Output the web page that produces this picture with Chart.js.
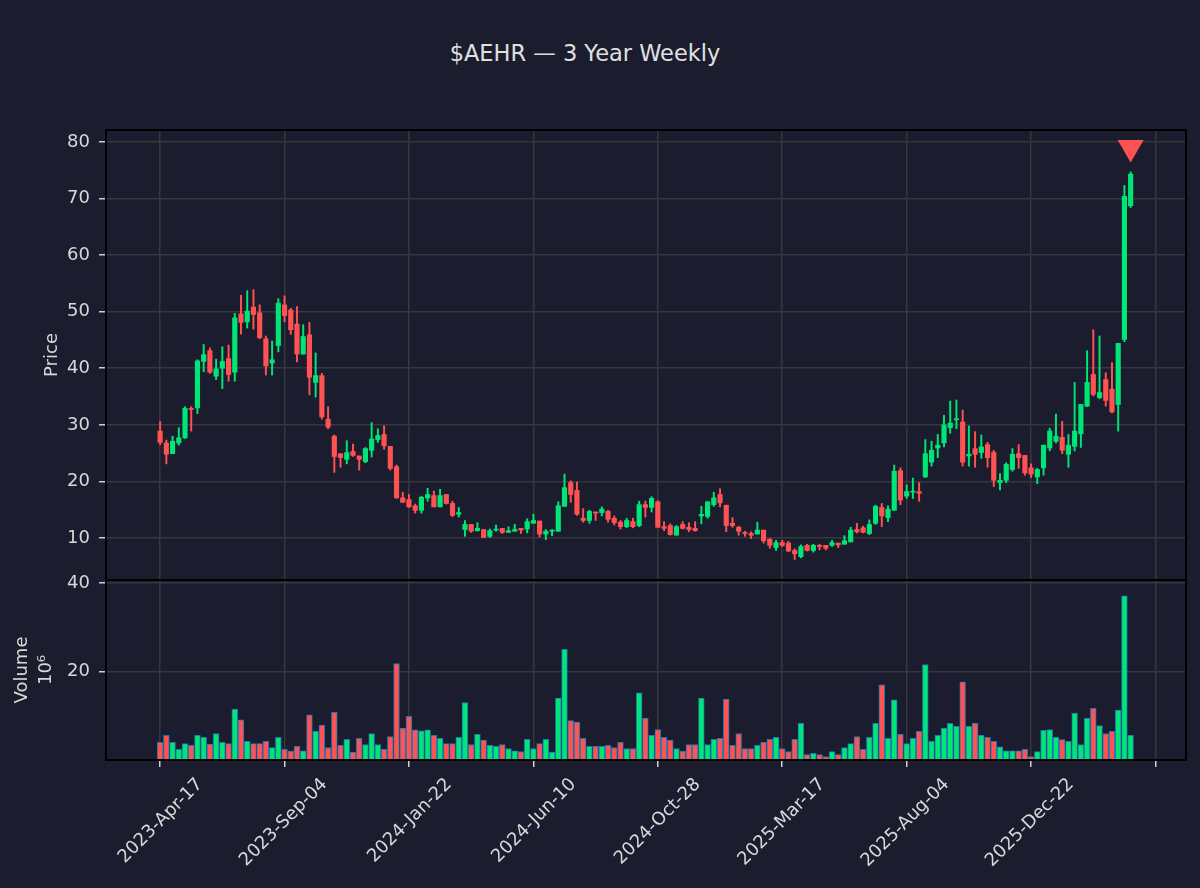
<!DOCTYPE html>
<html><head><meta charset="utf-8">
<script src="https://cdn.jsdelivr.net/npm/chart.js@4.4.1/dist/chart.umd.min.js"></script>
<style>
html,body{margin:0;padding:0;background:#1b1c2e;width:1200px;height:888px;overflow:hidden}
#title{position:absolute;left:0;width:1170px;top:40px;text-align:center;color:#e0e0e0;font:22.5px "DejaVu Sans",sans-serif;line-height:26px}
canvas{position:absolute;left:0}
#pc{top:0}
#vc{top:560px}
</style></head>
<body>
<div id="title">$AEHR — 3 Year Weekly</div>
<canvas id="pc" width="1200" height="580"></canvas>
<canvas id="vc" width="1200" height="328"></canvas>
<script>
// Weekly candles, week 0 = 2023-Apr-17
const opens = [28.9,26.8,24.9,26.8,27.7,32.9,33.0,41.2,43.1,38.6,
40.0,41.7,39.3,49.6,48.2,50.8,49.8,45.2,40.9,44.0,
51.2,50.3,47.8,42.5,45.9,37.5,38.7,31.0,28.0,24.9,
23.9,25.3,24.5,23.5,25.5,27.4,28.3,26.2,22.6,17.1,
16.8,15.7,14.9,17.1,17.5,15.5,17.7,16.1,14.2,11.5,
12.4,11.3,11.5,10.3,11.4,11.7,11.0,11.2,11.7,11.6,
12.6,13.0,10.7,11.2,11.2,15.6,19.8,18.4,13.5,13.1,
14.6,14.5,14.7,13.5,12.8,12.0,12.9,12.2,15.9,15.4,
16.4,12.0,12.2,10.5,12.4,11.9,11.7,13.9,13.8,15.9,
17.7,15.8,12.6,11.9,10.9,10.8,10.7,11.4,9.8,8.3,
9.2,9.1,7.8,6.7,8.7,7.8,8.7,8.7,8.7,9.1,
8.9,9.3,11.5,11.8,10.8,12.6,15.4,13.6,14.9,21.9,
17.4,18.1,18.2,20.8,23.4,25.9,26.8,29.5,30.9,30.5,
24.5,25.8,25.1,26.5,25.1,19.8,20.2,22.1,24.9,24.6,
22.4,20.8,22.4,25.9,27.1,27.8,24.8,26.2,28.4,33.3,
38.9,34.8,38.0,36.3,33.6,45.1,68.7];
const highs = [30.6,27.3,28.0,29.5,33.2,33.2,41.5,44.2,43.6,41.6,
43.8,44.1,49.7,52.9,53.7,53.9,51.2,45.7,44.8,52.3,
52.8,50.6,50.9,47.7,48.1,42.7,39.1,33.2,28.2,24.9,
27.2,26.6,24.5,26.0,30.4,29.3,29.8,26.2,22.9,18.1,
17.7,16.0,17.4,18.8,18.3,18.6,17.7,16.5,15.4,13.1,
12.4,12.7,11.5,11.6,12.3,11.7,12.0,12.4,11.7,13.4,
14.2,13.0,11.5,11.5,16.4,21.3,20.1,19.9,15.2,14.9,
14.6,15.5,14.9,13.9,13.1,13.5,13.5,16.5,16.5,17.3,
16.6,12.9,12.5,12.2,12.9,12.7,12.9,15.6,16.4,18.1,
18.7,15.8,13.6,12.1,11.2,11.1,12.8,11.4,9.9,9.6,
9.6,9.4,8.1,8.8,8.9,8.9,8.9,8.7,9.6,9.1,
10.4,11.9,12.6,12.1,13.2,15.8,16.1,15.7,22.9,22.4,
19.4,20.6,19.8,27.4,27.1,28.3,31.7,34.2,34.4,32.6,
29.8,28.8,28.2,26.9,25.5,21.4,23.3,25.8,26.5,24.6,
23.1,22.3,26.4,29.4,31.9,30.6,28.3,37.5,33.6,43.1,
46.8,45.7,39.2,41.0,44.4,72.3,74.7];
const lows = [26.5,23.1,24.9,26.4,27.6,28.9,32.0,39.4,39.1,38.0,
36.4,37.7,37.7,46.0,47.1,46.9,45.2,38.8,38.8,42.9,
48.2,46.0,41.1,42.5,35.3,34.9,31.0,29.3,21.6,22.5,
23.1,24.4,22.0,23.3,24.3,26.9,25.7,22.0,17.0,16.3,
15.4,14.4,14.4,16.5,15.5,15.5,16.0,13.8,13.7,10.3,
11.0,11.2,10.1,10.1,11.2,10.8,11.0,11.2,10.8,10.9,
12.6,10.2,9.7,10.4,11.2,15.6,16.3,14.0,12.8,12.6,
13.1,13.9,12.8,12.3,11.6,11.8,11.8,12.0,13.7,14.6,
11.9,11.3,10.5,10.5,11.6,11.1,11.2,12.5,13.5,15.6,
15.5,11.1,11.9,10.5,10.3,9.9,10.7,9.1,8.2,7.8,
8.5,7.6,6.2,6.5,7.7,7.5,7.9,7.9,8.5,8.3,
8.9,9.3,10.9,10.9,10.6,12.4,12.0,12.9,14.9,15.9,
17.0,17.0,16.5,20.7,22.7,24.2,26.1,28.5,29.3,22.7,
22.7,22.5,24.1,22.5,19.1,18.5,19.8,21.8,22.3,21.1,
20.7,19.6,21.1,25.4,26.8,24.9,22.5,25.4,26.0,33.2,
35.1,34.6,33.3,32.1,28.9,44.7,68.4];
const closes = [26.9,24.8,27.1,27.7,32.9,32.7,41.3,42.4,39.3,39.9,
41.2,38.9,48.9,48.1,50.1,49.5,45.4,40.4,41.5,51.5,
49.3,46.8,42.5,45.6,38.4,38.7,31.4,29.6,24.4,24.2,
25.1,24.6,23.9,25.8,27.5,28.1,26.3,22.3,17.1,16.3,
15.5,14.9,17.2,17.7,15.5,17.5,16.1,14.0,14.5,12.4,
11.2,11.7,10.1,11.3,11.5,11.0,11.3,11.5,11.4,12.9,
13.1,10.7,11.2,11.3,15.7,18.9,17.7,14.2,13.1,14.7,
14.4,15.1,13.3,12.7,12.0,13.1,12.0,15.9,15.4,17.0,
11.9,11.7,10.6,12.0,11.7,11.5,11.3,14.2,16.4,17.1,
16.2,12.2,12.2,11.2,10.8,10.5,11.4,9.5,8.7,9.2,
8.7,7.7,7.2,8.5,7.8,8.7,8.5,8.2,9.2,8.8,
9.5,11.4,11.1,11.0,12.4,15.6,13.9,15.1,21.8,16.7,
18.2,18.2,17.9,24.9,25.5,26.4,30.0,30.3,31.0,23.4,
24.8,24.8,26.1,24.2,20.2,20.2,23.0,24.8,24.2,21.5,
21.3,22.1,26.4,28.9,28.0,25.5,26.4,28.9,33.6,37.5,
35.4,35.7,34.3,32.3,44.4,70.4,74.3];
// Volume in millions
const volumes = [4.0,5.6,4.0,2.4,3.7,3.3,5.6,5.1,3.6,6.0,
4.0,3.7,11.5,9.1,4.2,3.7,3.7,4.2,2.8,5.1,
2.4,2.0,3.1,2.1,10.2,6.5,7.9,2.8,10.8,3.3,
4.7,1.8,4.9,3.5,6.0,3.5,2.4,5.3,21.8,7.2,
9.9,6.8,6.6,6.8,5.6,4.9,3.7,3.7,5.1,13.0,
3.5,5.8,4.5,3.3,3.1,3.5,2.6,2.1,1.9,4.7,
2.6,3.7,4.7,1.8,14.0,25.0,8.9,8.6,4.9,3.1,
3.1,3.1,3.3,2.8,4.0,2.6,2.6,15.2,9.5,5.6,
6.9,5.1,4.5,2.6,2.0,3.5,3.5,14.0,3.5,4.7,
4.9,13.8,3.3,6.0,2.6,2.6,3.3,4.0,4.7,5.1,
2.6,1.9,4.7,8.3,1.2,1.5,1.2,0.8,1.9,1.2,
2.8,3.7,5.3,2.4,5.1,8.3,17.0,4.9,13.6,5.8,
3.7,4.9,6.5,21.6,4.2,5.6,7.2,8.3,7.6,17.7,
7.6,8.3,5.6,5.1,4.2,3.0,2.1,2.1,2.1,2.4,
0.8,1.9,6.7,6.9,5.1,4.6,4.2,10.6,3.5,9.4,
11.7,7.8,6.0,6.5,11.3,37.1,5.6];
const tickWeeks = [0,20,40,60,80,100,120,140,160];
const tickLabels = ['2023-Apr-17','2023-Sep-04','2024-Jan-22','2024-Jun-10','2024-Oct-28','2025-Mar-17','2025-Aug-04','2025-Dec-22',''];
const priceTicks = [10,20,30,40,50,60,70,80];
const volumeTicks = [20,40];
const signalMarker = [{x:156, y:79}];

const UP = '#00e676', DOWN = '#ff5252';
const GRID = '#37373c', TXT = '#d8d8d8', TICKC = '#cfcfcf';
const FONT = {family:'"DejaVu Sans"', size:18};
const weeks = opens.map((_, i) => i);
const colorOf = i => closes[i] >= opens[i] ? UP : DOWN;

const frame = {id:'frame', afterDraw(c){
  const {ctx, chartArea:a} = c;
  ctx.save(); ctx.strokeStyle = '#000'; ctx.lineWidth = 2;
  ctx.strokeRect(a.left, a.top, a.right - a.left, a.bottom - a.top);
  ctx.restore();
}};

const xBase = (showLabels, h) => ({
  type:'linear', min:-8.7, max:164.9, offset:false,
  afterBuildTicks: s => { s.ticks = tickWeeks.map(v => ({value:v})); },
  afterFit: s => { s.height = h; s.paddingLeft = 0; s.paddingRight = 0; s.paddingTop = 0; s.paddingBottom = 0; },
  grid:{color:GRID, offset:false, lineWidth:1.5, drawTicks:showLabels, tickLength:7, tickColor:TICKC},
  border:{display:false},
  ticks: showLabels ? {
    display:true, autoSkip:false, minRotation:45, maxRotation:45, color:TXT, font:FONT,
    padding:7, labelOffset:40,
    callback: (v) => { const k = tickWeeks.indexOf(v); return k >= 0 ? tickLabels[k] : ''; }
  } : {display:false}
});

const yFit = s => { s.width = 106; s.paddingTop = 0; s.paddingBottom = 0; s.paddingLeft = 0; s.paddingRight = 0; };

new Chart(document.getElementById('pc'), {
  type:'bar',
  data:{datasets:[
    {type:'scatter', data:signalMarker, pointStyle:'triangle', rotation:180, pointRadius:15,
     backgroundColor:DOWN, borderColor:DOWN, borderWidth:0, order:1},
    {label:'body', data:weeks.map(i => ({x:i, y:[opens[i], closes[i]]})),
     backgroundColor:weeks.map(colorOf), barThickness:4.5, grouped:false, minBarLength:1, order:2},
    {label:'wick', data:weeks.map(i => ({x:i, y:[lows[i], highs[i]]})),
     backgroundColor:weeks.map(colorOf), barThickness:1.3, grouped:false, order:3}
  ]},
  options:{
    responsive:false, animation:false, devicePixelRatio:1,
    layout:{autoPadding:false, padding:{left:0, right:14, top:130, bottom:0}},
    plugins:{legend:{display:false}, tooltip:{enabled:false}, title:{display:false}},
    scales:{
      x: xBase(false, 0),
      y: {type:'linear', position:'left', min:2.58, max:82.1,
        afterBuildTicks: s => { s.ticks = priceTicks.map(v => ({value:v})); },
        afterFit: yFit,
        ticks:{color:TXT, font:FONT, padding:9},
        grid:{color:GRID, lineWidth:1.5, tickLength:7, tickColor:TICKC},
        border:{display:false},
        title:{display:true, text:'Price', color:TXT, font:FONT, padding:{top:42, bottom:0}}}
    }
  },
  plugins:[frame]
});

new Chart(document.getElementById('vc'), {
  type:'bar',
  data:{datasets:[
    {label:'volume', data:weeks.map(i => ({x:i, y:volumes[i]})),
     backgroundColor:weeks.map(colorOf), borderColor:'#1f77b4', borderWidth:1,
     barThickness:5.8, grouped:false}
  ]},
  options:{
    responsive:false, animation:false, devicePixelRatio:1,
    layout:{autoPadding:false, padding:{left:0, right:14, top:20, bottom:0}},
    plugins:{legend:{display:false}, tooltip:{enabled:false}},
    scales:{
      x: xBase(true, 128),
      y: {type:'linear', position:'left', min:0, max:40.7,
        afterBuildTicks: s => { s.ticks = volumeTicks.map(v => ({value:v})); },
        afterFit: yFit,
        ticks:{color:TXT, font:FONT, padding:9},
        grid:{color:GRID, lineWidth:1.5, tickLength:7, tickColor:TICKC},
        border:{display:false},
        title:{display:true, text:['Volume','10\u2076'], color:TXT,
          font:{family:'"DejaVu Sans"', size:18, lineHeight:1.35}, padding:{top:10, bottom:0}}}
    }
  },
  plugins:[frame]
});
</script>
</body></html>
